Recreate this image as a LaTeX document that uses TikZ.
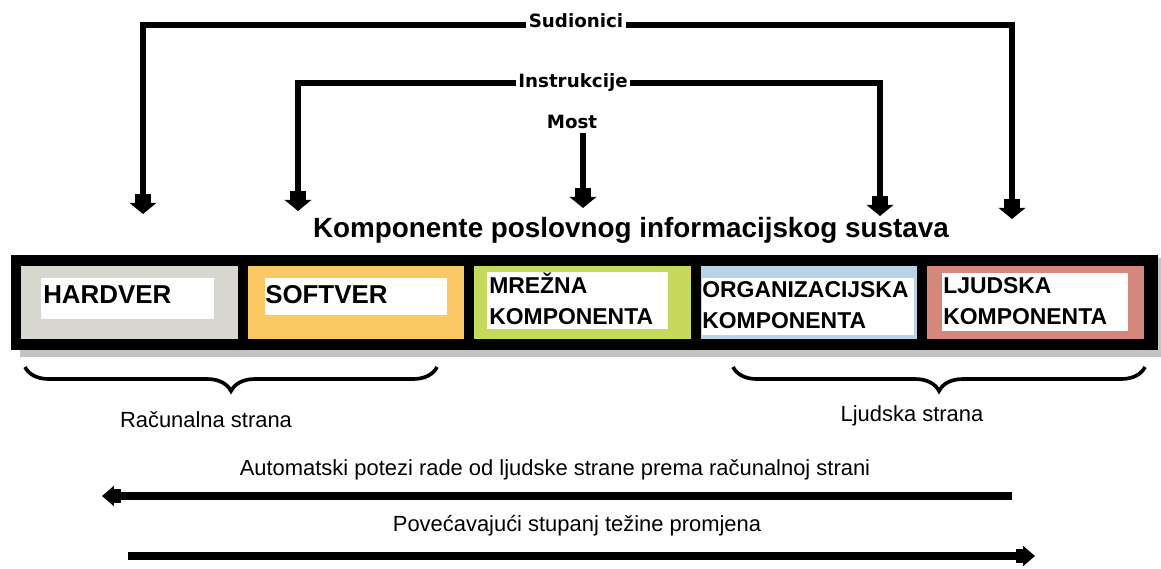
\documentclass[tikz,border=0pt]{standalone}
\usepackage{fontspec}
\setmainfont{Liberation Sans}
\newfontfamily\tagfont{DejaVu Sans}
\usetikzlibrary{arrows.meta,decorations.pathreplacing}
\definecolor{hardver}{RGB}{216,215,207}
\definecolor{softver}{RGB}{251,200,98}
\definecolor{mreza}{RGB}{198,217,90}
\definecolor{organizacija}{RGB}{183,211,231}
\definecolor{ljudi}{RGB}{212,135,122}
\definecolor{shade}{RGB}{196,196,196}
\tikzstyle{part}=[minimum width=5.4cm, minimum height=1.825cm, inner sep=0]
\tikzstyle{pad}=[fill=white, inner sep=0]
\tikzstyle{partname}=[anchor=west, inner sep=0, align=left, font=\fontsize{16.3}{22}\selectfont\bfseries]
\tikzset{tag/.style={anchor=base, inner xsep=0.05cm, inner ysep=0, font=\tagfont\fontsize{13}{15}\selectfont\bfseries}}
\tikzset{caption/.style={anchor=base, inner sep=0, font=\fontsize{15.6}{18}\selectfont}}
\tikzset{feed/.style={line width=3.8pt, -{Rectangle[length=6pt,width=11pt,sep=0pt]Triangle[length=8pt,width=19pt]}}}
\tikzset{flow/.style={line width=5.3pt, -{Rectangle[length=5pt,width=10pt,sep=0pt]Triangle[length=8.5pt,width=14pt]}}}
\tikzset{side/.style={decorate, decoration={brace,mirror,amplitude=0.6cm}, line width=2.6pt}}

\begin{document}
\begin{tikzpicture}[x=0.025cm,y=-0.025cm]
  \useasboundingbox (0,0) rectangle (1161,568);

  %% Component bar
  \draw (590.5,307.5) node[fill=shade, inner sep=0, minimum width=28.525cm, minimum height=2.475cm] (shadow) {};
  \draw (584.5,302.5) node[fill=black, inner sep=0, minimum width=28.675cm, minimum height=2.375cm] (bar) {};

  \draw (129.5,302.5) node[part, fill=hardver] (HW) {};
  \draw (356,302.5) node[part, fill=softver] (SW) {};
  \draw (582.5,302.5) node[part, fill=mreza] (NET) {};
  \draw (809,302.5) node[part, fill=organizacija] (ORG) {};
  \draw (1035.5,302.5) node[part, fill=ljudi] (LJ) {};

  \draw (127.5,298.5) node[pad, minimum width=4.325cm, minimum height=1.025cm] (HWpad) {};
  \draw (356,296.5) node[pad, minimum width=4.55cm, minimum height=0.925cm] (SWpad) {};
  \draw (577.5,300.5) node[pad, minimum width=4.525cm, minimum height=1.425cm] (NETpad) {};
  \draw (808,306.5) node[pad, minimum width=5.3cm, minimum height=1.425cm] (ORGpad) {};
  \draw (1035,302) node[pad, minimum width=4.65cm, minimum height=1.45cm] (LJpad) {};

  \draw (43,294.5) node[partname, font=\fontsize{18.4}{22}\selectfont\bfseries] (HWtext) {HARDVER};
  \draw (265,294.5) node[partname, font=\fontsize{18.4}{22}\selectfont\bfseries] (SWtext) {SOFTVER};
  \draw (489,299) node[partname] (NETtext) {MREŽNA\\KOMPONENTA};
  \draw (702,305) node[partname] (ORGtext) {ORGANIZACIJSKA\\KOMPONENTA};
  \draw (943,301) node[partname] (LJtext) {LJUDSKA\\KOMPONENTA};

  \draw (631,237) node[anchor=base, inner sep=0, font=\fontsize{19.8}{22}\selectfont\bfseries] (title) {Komponente poslovnog informacijskog sustava};

  %% Links from the top
  \draw (576,27) node[tag] (sud) {Sudionici};
  \draw (573,87) node[tag] (ins) {Instrukcije};
  \draw (572,128) node[tag] (most) {Most};

  \coordinate (HWtip) at (143,214);
  \coordinate (SWtip) at (298,211);
  \coordinate (NETstart) at (583,133);
  \coordinate (NETtip) at (583,208);
  \coordinate (ORGtip) at (880,216);
  \coordinate (LJtip) at (1012,219);

  \draw[feed] ([yshift=0.05cm]sud.base west) -| (HWtip);
  \draw[feed] ([yshift=0.05cm]sud.base east) -| (LJtip);
  \draw[feed] ([yshift=0.1cm]ins.base west) -| (SWtip);
  \draw[feed] ([yshift=0.1cm]ins.base east) -| (ORGtip);
  \draw[feed] (NETstart) -- (NETtip);

  %% Sides
  \coordinate (racL) at (25,367);
  \coordinate (racR) at (437,367);
  \coordinate (ljL) at (733,367);
  \coordinate (ljR) at (1145,367);
  \draw[side] (racL) -- (racR);
  \draw[side] (ljL) -- (ljR);
  \draw (206,427) node[caption] (racside) {Računalna strana};
  \draw (912,421) node[caption] (ljside) {Ljudska strana};

  %% Directions
  \draw (555,475) node[caption] (auto) {Automatski potezi rade od ljudske strane prema računalnoj strani};
  \draw (577,531) node[caption] (change) {Povećavajući stupanj težine promjena};
  \coordinate (autoStart) at (1012,496);
  \coordinate (autoEnd) at (102,496);
  \coordinate (changeStart) at (128,556);
  \coordinate (changeEnd) at (1035,556);
  \draw[flow] (autoStart) -- (autoEnd);
  \draw[flow] (changeStart) -- (changeEnd);
\end{tikzpicture}
\end{document}
